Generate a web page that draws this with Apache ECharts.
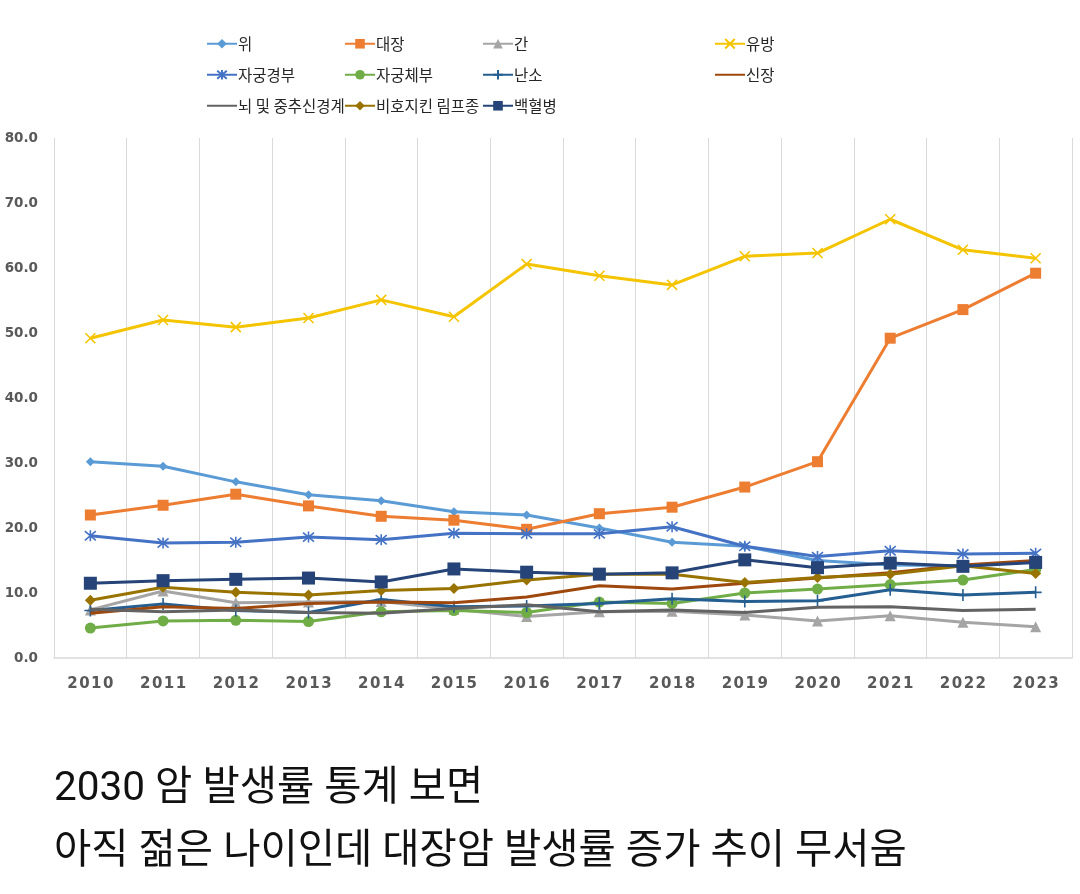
<!DOCTYPE html>
<html>
<head>
<meta charset="utf-8">
<script src="https://cdn.jsdelivr.net/npm/echarts@6/dist/echarts.min.js"></script>
<style>
html,body{margin:0;padding:0;background:#fff;}
#main{width:1080px;height:894px;}
</style>
</head>
<body>
<div id="main"></div>
<script>
var years = ['2010','2011','2012','2013','2014','2015','2016','2017','2018','2019','2020','2021','2022','2023'];
var yTicks = [0,10,20,30,40,50,60,70,80];

var stomach   = [30.2,29.5,27.1,25.1,24.2,22.5,22.0,20.0,17.8,17.2,15.0,14.3,14.2,14.8];
var colon     = [22.0,23.5,25.2,23.4,21.8,21.2,19.8,22.2,23.2,26.3,30.2,49.2,53.6,59.2];
var liver     = [7.4,10.3,8.5,8.6,8.7,7.5,6.4,7.1,7.2,6.6,5.7,6.5,5.5,4.8];
var breast    = [49.2,52.0,50.9,52.3,55.1,52.5,60.6,58.8,57.4,61.8,62.3,67.5,62.8,61.5];
var cervix    = [18.8,17.7,17.8,18.6,18.2,19.2,19.1,19.1,20.2,17.2,15.6,16.5,16.0,16.1];
var uterus    = [4.6,5.7,5.8,5.6,7.1,7.3,7.0,8.6,8.4,10.0,10.6,11.3,12.0,13.6];
var ovary     = [7.3,8.3,7.3,7.0,9.0,7.9,8.0,8.4,9.1,8.7,8.8,10.5,9.7,10.1];
var kidney    = [6.9,7.9,7.6,8.4,8.6,8.5,9.4,11.1,10.6,11.5,12.3,13.1,14.3,15.0];
var brain     = [7.5,7.1,7.4,7.0,6.9,7.6,8.2,7.1,7.4,7.0,7.8,7.9,7.3,7.5];
var nhl       = [8.9,10.9,10.1,9.7,10.4,10.7,12.0,12.9,12.9,11.6,12.4,12.9,14.2,13.0];
var leukemia  = [11.5,11.9,12.1,12.3,11.7,13.7,13.2,12.9,13.1,15.1,13.9,14.6,14.1,14.7];

var names  = ['위','대장','간','유방','자궁경부','자궁체부','난소','신장','뇌 및 중추신경계','비호지킨 림프종','백혈병'];
var colors = ['#5B9BD5','#ED7D31','#A5A5A5','#F5C400','#4472C4','#70AD47','#255E91','#9E480E','#636363','#997300','#264478'];
var dataSets = [stomach,colon,liver,breast,cervix,uterus,ovary,kidney,brain,nhl,leukemia];

var X_PATH = 'path://M0,0L10,10M10,0L0,10';
var AST_PATH = 'path://M0,0L10,10M10,0L0,10M5,-1L5,11';
var PLUS_PATH = 'path://M5,0L5,10M0,5L10,5';
var symbols = [
  {s:'diamond', size:9},
  {s:'rect', size:11},
  {s:'triangle', size:11},
  {s:X_PATH, size:10, stroke:true},
  {s:AST_PATH, size:11, stroke:true},
  {s:'circle', size:11},
  {s:PLUS_PATH, size:12, stroke:true},
  {s:'none', size:0},
  {s:'none', size:0},
  {s:'diamond', size:11},
  {s:'rect', size:13}
];

var series = names.map(function(n,i){
  var sym = symbols[i];
  var st = {color: colors[i]};
  if (sym.stroke) { st.borderColor = colors[i]; st.borderWidth = 1.6; }
  return {
    name: n,
    type: 'line',
    data: dataSets[i],
    symbol: sym.s,
    symbolSize: sym.size,
    showSymbol: sym.s !== 'none',
    lineStyle: {color: colors[i], width: 3},
    itemStyle: st,
    emphasis: {disabled: true},
    z: 2 + i
  };
});

// legend positions [left, top]
var legendPos = [
  [206,36],[344,36],[482,36],[714,36],
  [206,67],[344,67],[482,67],[714,67],
  [206,98],[344,98],[482,98]
];
var legends = names.map(function(n,i){
  var lg = {
    data: [n],
    left: legendPos[i][0],
    top: legendPos[i][1],
    itemWidth: 30,
    itemHeight: 12,
    itemGap: 0,
    selectedMode: false,
    padding: 0,
    textStyle: {fontSize: 15.5, color: '#262626', fontFamily: 'Noto Sans CJK KR', padding: [0,0,0,-4]}
  };
  if (symbols[i].s === 'none') { lg.itemStyle = {opacity: 0}; }
  return lg;
});

var chart = echarts.init(document.getElementById('main'), null, {renderer:'canvas'});
chart.setOption({
  animation: false,
  backgroundColor: '#fff',
  legend: legends,
  grid: {left: 54, right: 8, top: 138, bottom: 236},
  xAxis: {
    type: 'category',
    data: years,
    boundaryGap: true,
    axisLine: {show: true, lineStyle: {color: '#D9D9D9', width: 1.5}},
    axisTick: {show: false},
    splitLine: {show: true, lineStyle: {color: '#D9D9D9', width: 1}},
    axisLabel: {
      margin: 19,
      fontSize: 15,
      fontWeight: 'bold',
      color: '#595959',
      fontFamily: 'DejaVu Sans',
      formatter: function(v){ return v.split('').join('\u200A'); }
    }
  },
  yAxis: {
    type: 'value',
    min: yTicks[0],
    max: yTicks[yTicks.length-1],
    interval: 10,
    axisLine: {show: false},
    axisTick: {show: false},
    splitLine: {show: false},
    axisLabel: {
      margin: 16,
      fontSize: 13.5,
      fontWeight: 'bold',
      color: '#595959',
      fontFamily: 'DejaVu Sans',
      formatter: function(v){ return v.toFixed(1); }
    }
  },
  graphic: [
    {type:'text', left: 54, top: 770, style:{text:'2030 암 발생률 통계 보면', fontSize: 40.5, fill:'#111', fontFamily:'Roboto, Noto Sans CJK KR'}},
    {type:'text', left: 54, top: 833, style:{text:'아직 젊은 나이인데 대장암 발생률 증가 추이 무서움', fontSize: 40.5, fill:'#111', fontFamily:'Roboto, Noto Sans CJK KR'}}
  ],
  series: series
});
</script>
</body>
</html>
